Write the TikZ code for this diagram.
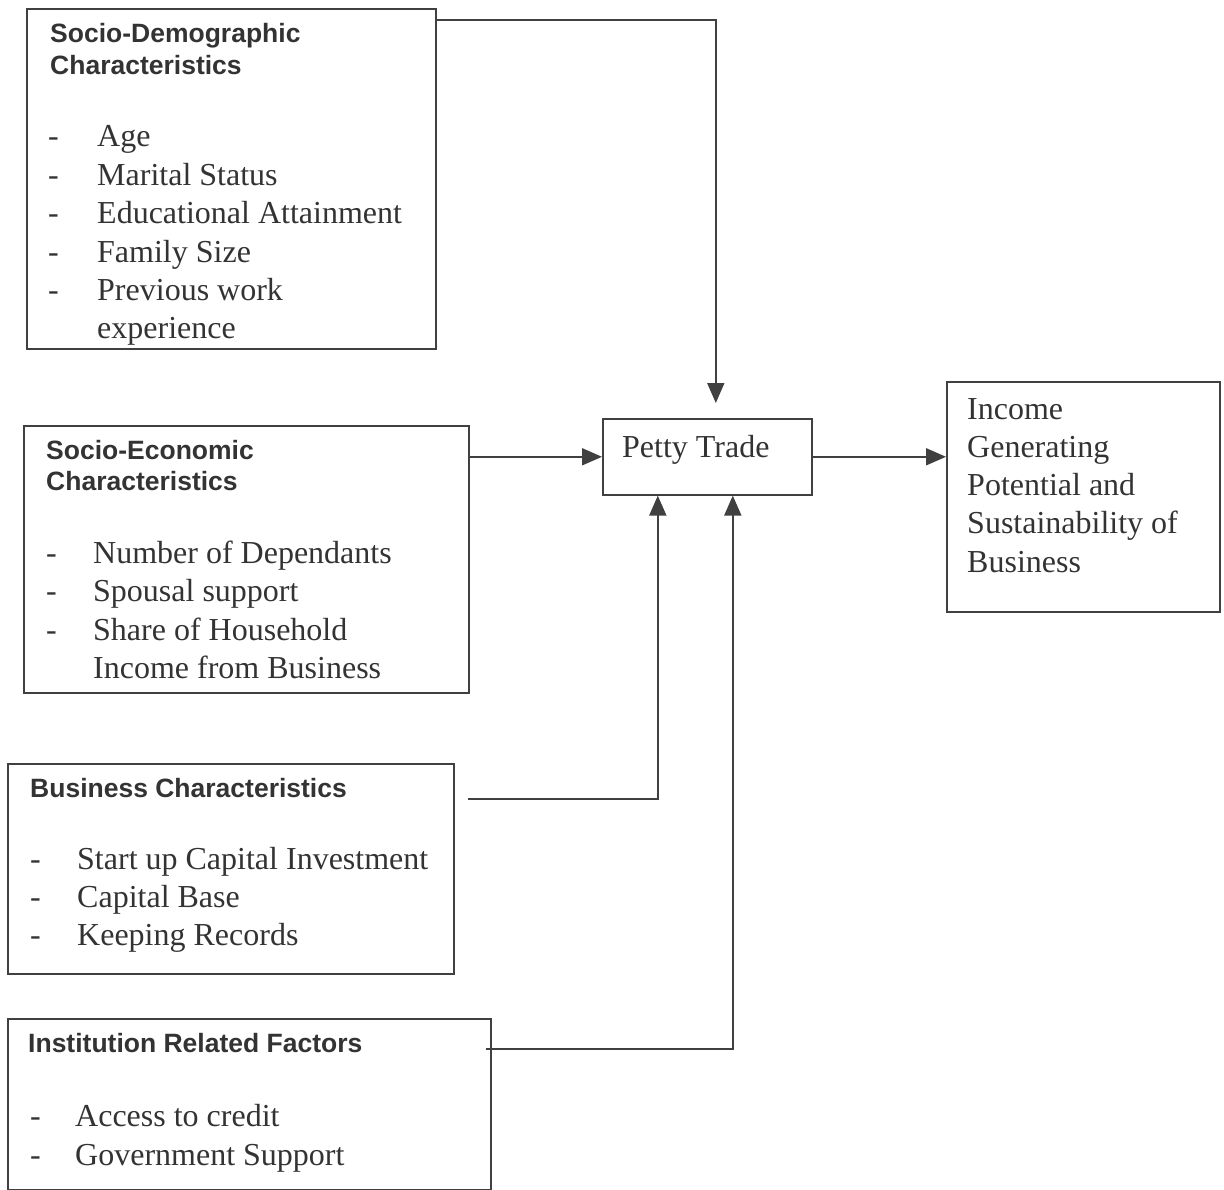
\documentclass[tikz,border=0pt]{standalone}
\usepackage{fontspec}
\setmainfont{Liberation Serif}
\newfontfamily\headfont{Liberation Sans}
\usetikzlibrary{arrows.meta}
\definecolor{ink}{HTML}{333333}
\definecolor{linec}{HTML}{404040}
\tikzset{
  box/.style={draw=linec, line width=1.6pt, rectangle, inner sep=0pt, anchor=north west},
  head/.style={anchor=base west, inner sep=0pt, text=ink, font=\headfont\bfseries\fontsize{26.5}{31}\selectfont},
  item/.style={anchor=base west, inner sep=0pt, text=ink, font=\fontsize{32}{38.3}\selectfont},
  arr/.style={draw=linec, line width=1.8pt, -{Triangle[length=20pt,width=17pt]}}
}
\begin{document}
\begin{tikzpicture}[x=1pt,y=-1pt]
\useasboundingbox (0,0) rectangle (1224,1190);
% boxes
\node[box, minimum width=409pt, minimum height=340pt] (sd) at (26,8) {};
\node[box, minimum width=445pt, minimum height=267pt] (se) at (23,425) {};
\node[box, minimum width=446pt, minimum height=210pt] (bc) at (7,763) {};
\node[box, minimum width=483pt, minimum height=171pt] (ir) at (7,1018) {};
\node[box, minimum width=209pt, minimum height=76pt] (pt) at (602,418) {};
\node[box, minimum width=273pt, minimum height=230pt] (inc) at (946,381) {};
% headings
\node[head] (sdh1) at (50,43) {Socio-Demographic};
\node[head] (sdh2) at (50,75) {Characteristics};
\node[head] (seh1) at (46,459) {Socio-Economic};
\node[head] (seh2) at (46,490) {Characteristics};
\node[head] (bch) at (30,797) {Business Characteristics};
\node[head] (irh) at (28,1052) {Institution Related Factors};
% items box 1
\foreach \t [count=\i] in {Age, Marital Status, Educational Attainment, Family Size, Previous work}
  {\node[item] (sdd\i) at (48,{147+38.4*(\i-1)}) {-};
   \node[item] (sdi\i) at (97,{147+38.4*(\i-1)}) {\t};}
\node[item] (sdi6) at (97,339) {experience};
% items box 2
\foreach \t [count=\i] in {Number of Dependants, Spousal support, Share of Household}
  {\node[item] (sed\i) at (46,{563+38.5*(\i-1)}) {-};
   \node[item] (sei\i) at (93,{563+38.5*(\i-1)}) {\t};}
\node[item] (sei4) at (93,678) {Income from Business};
% items box 3
\foreach \t [count=\i] in {Start up Capital Investment, Capital Base, Keeping Records}
  {\node[item] (bcd\i) at (30,{869+38.3*(\i-1)}) {-};
   \node[item] (bci\i) at (77,{869+38.3*(\i-1)}) {\t};}
% items box 4
\foreach \t [count=\i] in {Access to credit, Government Support}
  {\node[item] (ird\i) at (30,{1126+39*(\i-1)}) {-};
   \node[item] (iri\i) at (75,{1126+39*(\i-1)}) {\t};}
% petty trade
\node[item] (ptt) at (622,457) {Petty Trade};
% income
\foreach \t [count=\i] in {Income, Generating, Potential and, Sustainability of, Business}
  \node[item] (inct\i) at (967,{419+38.3*(\i-1)}) {\t};
% connectors
\coordinate (sdout) at (435,20);
\coordinate (bcout) at (468,799);
\coordinate (irout) at (486,1049);
\draw[arr, shorten >=15pt] (sdout) -| ([xshift=8.5pt]pt.north);
\draw[arr] (se.east |- pt.west) -- (pt.west);
\draw[arr] (pt.east) -- (inc.west |- pt.east);
\draw[arr] (bcout) -| ([xshift=-49.5pt]pt.south);
\draw[arr] (irout) -| ([xshift=25.5pt]pt.south);
\end{tikzpicture}
\end{document}
